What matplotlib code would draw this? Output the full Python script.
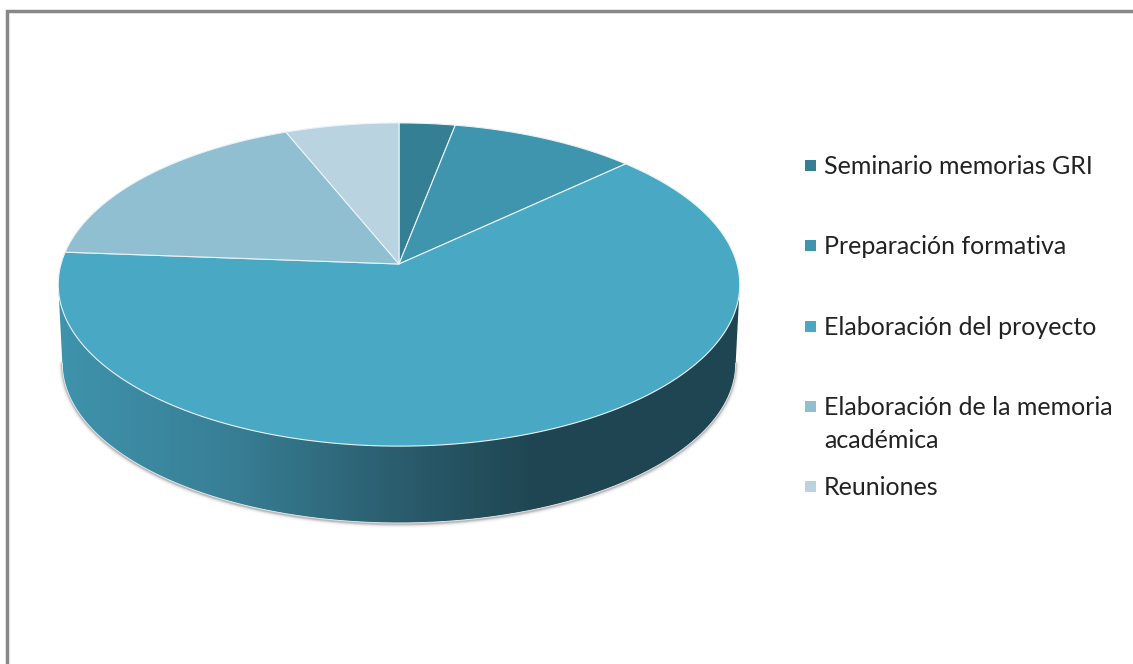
import numpy as np
import matplotlib
matplotlib.use("Agg")
import matplotlib.pyplot as plt
from matplotlib.patches import Polygon, Rectangle
from matplotlib.colors import LinearSegmentedColormap

labels = ["Seminario memorias GRI", "Preparación formativa", "Elaboración del proyecto",
          "Elaboración de la memoria\nacadémica", "Reuniones"]
values = [3.0, 10.0, 63.2, 17.7, 6.1]
colors = ["#357F95", "#4095AE", "#49A8C3", "#90BFD1", "#B9D4E0"]
legend_y = [165, 245, 326, 406, 486]

CX, CY, R, H, K = 399.0, 264.0, 338.0, 159.0, 0.127
DEPTH, SHRINK = 79.0, 0.988


def project(t, s=1.0, dy=0.0):
    x, y = np.sin(t), np.cos(t)
    d = 1 + K * y
    return np.column_stack([CX + s * R * x / d, CY + dy - s * H * y / d])


fig = plt.figure(figsize=(11.33, 6.64), dpi=100, facecolor="white")
ax = fig.add_axes([0, 0, 1, 1])
ax.set_xlim(0, 1133)
ax.set_ylim(664, 0)
ax.axis("off")

# frame (open on the right and at the bottom)
ax.plot([6.5, 6.5, 1133], [664, 10.5, 10.5], color="#888888", lw=2.5,
        solid_joinstyle="miter", zorder=1)

# side wall silhouette
tt = np.linspace(0, 2 * np.pi, 1441)
bottom = project(tt, SHRINK, DEPTH)
top = project(tt)
il, ir = np.argmin(bottom[:, 0]), np.argmax(bottom[:, 0])
front = bottom[ir:il + 1]
side = np.vstack([[top[np.argmax(top[:, 0])]], front, [top[np.argmin(top[:, 0])]]])

# soft shadow under the wall
for lw, a in [(6.0, 0.02), (4.5, 0.04), (3.2, 0.07), (2.2, 0.10), (1.2, 0.15)]:
    ax.plot(side[1:-1, 0], side[1:-1, 1] + 1.0, color="#303030", lw=lw, alpha=a,
            solid_capstyle="round", zorder=2)

cmap = LinearSegmentedColormap.from_list(
    "wall", [(0.0, "#3F93AC"), (0.25, "#387F96"), (0.5, "#2A5D6D"),
             (0.70, "#1F4552"), (1.0, "#1F4552")])
grad = np.linspace(0, 1, 512).reshape(1, -1)
wall_x0, wall_x1 = side[:, 0].min(), side[:, 0].max()
img = ax.imshow(grad, cmap=cmap, aspect="auto", zorder=3,
                extent=[wall_x0, wall_x1, side[:, 1].max() + 1, side[:, 1].min() - 1])
clip = Polygon(side, closed=True, transform=ax.transData)
img.set_clip_path(clip)
ax.set_xlim(0, 1133)
ax.set_ylim(664, 0)
ax.plot(front[:, 0], front[:, 1], color="#E8EEF0", lw=0.6, zorder=3.5)

# top face wedges, clockwise from twelve o'clock
cum = np.concatenate([[0], np.cumsum(values)]) / np.sum(values) * 2 * np.pi
for i, c in enumerate(colors):
    ts = np.linspace(cum[i], cum[i + 1], 400)
    pts = np.vstack([[CX, CY], project(ts)])
    ax.add_patch(Polygon(pts, closed=True, facecolor=c, edgecolor="#EAF3F6",
                         lw=0.8, joinstyle="round", zorder=4))

# legend
for lab, c, y in zip(labels, colors, legend_y):
    ax.add_patch(Rectangle((805, y - 5.5), 11, 11, facecolor=c, edgecolor="none", zorder=5))
    ax.text(824, y - 10, lab, family="Lato", fontsize=18, color="#222222",
            va="top", ha="left", linespacing=1.5, zorder=5)

fig.savefig("out.png", dpi=100)
